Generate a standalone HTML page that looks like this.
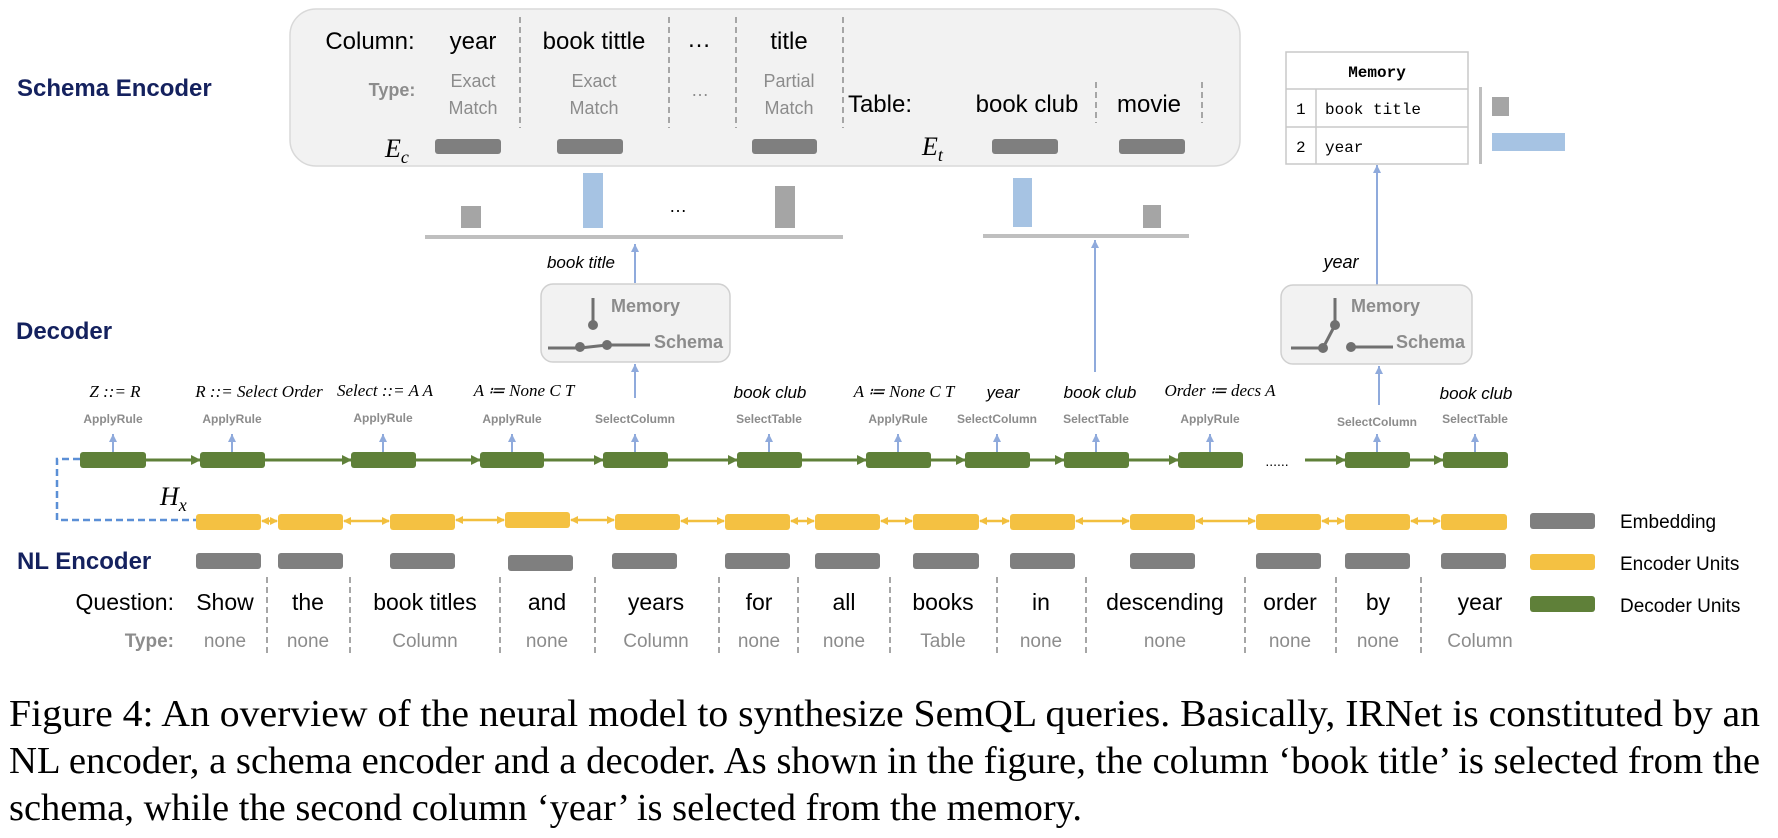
<!DOCTYPE html>
<html><head><meta charset="utf-8"><style>
html,body{margin:0;padding:0;background:#fff;width:1778px;height:838px;overflow:hidden}
svg{display:block}
.nav{font-family:"Liberation Sans",sans-serif;font-weight:bold;fill:#14215e}
.s{font-family:"Liberation Sans",sans-serif}
.g{fill:#8c8c8c}
.m{font-family:"Liberation Serif",serif;font-style:italic}
.mono{font-family:"Liberation Mono",monospace}
.cap{font-family:"Liberation Serif",serif;font-size:38px;fill:#000}
</style></head><body>
<svg width="1778" height="838" viewBox="0 0 1778 838" xmlns="http://www.w3.org/2000/svg">
<defs>
<marker id="ab" markerWidth="8" markerHeight="8" refX="8" refY="4" orient="auto" markerUnits="userSpaceOnUse"><path d="M0,0 L8,4 L0,8 Z" fill="#8faadc"/></marker>
<marker id="ag" markerWidth="10" markerHeight="10" refX="9" refY="5" orient="auto" markerUnits="userSpaceOnUse"><path d="M0,0 L10,5 L0,10 Z" fill="#5f8039"/></marker>
<marker id="ay" markerWidth="8" markerHeight="8" refX="7" refY="4" orient="auto-start-reverse" markerUnits="userSpaceOnUse"><path d="M0,0 L8,4 L0,8 Z" fill="#f2bf3e"/></marker>
</defs>

<text class="nav" x="17" y="96" font-size="24">Schema Encoder</text>
<text class="nav" x="16" y="339" font-size="24">Decoder</text>
<text class="nav" x="17" y="569" font-size="24">NL Encoder</text>

<rect x="290" y="9" width="950" height="157" rx="26" fill="#f2f2f2" stroke="#d9d9d9" stroke-width="1.5"/>
<g class="s" font-size="24" fill="#000" text-anchor="middle">
<text x="370" y="49">Column:</text>
<text x="473" y="49">year</text>
<text x="594" y="49">book tittle</text>
<text x="699" y="47">…</text>
<text x="789" y="49">title</text>
<text x="912" y="112" text-anchor="end">Table:</text>
<text x="1027" y="112">book club</text>
<text x="1149" y="112">movie</text>
</g>
<g class="s g" font-size="18" text-anchor="middle">
<text x="392" y="96" font-weight="bold">Type:</text>
<text x="473" y="87">Exact</text><text x="473" y="114">Match</text>
<text x="594" y="87">Exact</text><text x="594" y="114">Match</text>
<text x="700" y="96">…</text>
<text x="789" y="87">Partial</text><text x="789" y="114">Match</text>
</g>
<g stroke="#a6a6a6" stroke-width="2" stroke-dasharray="6,4">
<line x1="520" y1="17" x2="520" y2="128"/><line x1="669" y1="17" x2="669" y2="128"/>
<line x1="736" y1="17" x2="736" y2="128"/><line x1="843" y1="17" x2="843" y2="128"/>
<line x1="1096" y1="82" x2="1096" y2="123"/><line x1="1202" y1="82" x2="1202" y2="123"/>
</g>
<text class="m" x="385" y="157" font-size="26">E<tspan font-size="18" dy="6">c</tspan></text>
<text class="m" x="922" y="155" font-size="26">E<tspan font-size="18" dy="6">t</tspan></text>
<g fill="#7f7f7f">
<rect x="435" y="139" width="66" height="15" rx="3"/><rect x="557" y="139" width="66" height="15" rx="3"/>
<rect x="752" y="139" width="65" height="15" rx="3"/><rect x="992" y="139" width="66" height="15" rx="3"/>
<rect x="1119" y="139" width="66" height="15" rx="3"/>
</g>

<rect x="461" y="206" width="20" height="22" fill="#a5a5a5"/>
<rect x="583" y="173" width="20" height="55" fill="#a6c3e3"/>
<text class="s" x="678" y="212" font-size="18" text-anchor="middle">…</text>
<rect x="775" y="186" width="20" height="42" fill="#a5a5a5"/>
<rect x="425" y="235" width="418" height="4" fill="#bfbfbf"/>
<rect x="1013" y="178" width="19" height="49" fill="#a6c3e3"/>
<rect x="1143" y="205" width="18" height="23" fill="#a5a5a5"/>
<rect x="983" y="234" width="206" height="4" fill="#bfbfbf"/>

<rect x="1286" y="52" width="182" height="112" fill="#fff" stroke="#c8c8c8" stroke-width="1.5"/>
<line x1="1286" y1="89" x2="1468" y2="89" stroke="#c8c8c8" stroke-width="1.5"/>
<line x1="1286" y1="127" x2="1468" y2="127" stroke="#c8c8c8" stroke-width="1.5"/>
<line x1="1316" y1="89" x2="1316" y2="164" stroke="#c8c8c8" stroke-width="1.5"/>
<g class="mono" font-size="16" fill="#000">
<text x="1377" y="77" text-anchor="middle" font-weight="bold">Memory</text>
<text x="1296" y="114">1</text><text x="1325" y="114">book title</text>
<text x="1296" y="152">2</text><text x="1325" y="152">year</text>
</g>
<rect x="1479" y="87" width="3" height="77" fill="#bfbfbf"/>
<rect x="1492" y="97" width="17" height="19" fill="#a5a5a5"/>
<rect x="1492" y="133" width="73" height="18" fill="#a6c3e3"/>

<g stroke="#8faadc" stroke-width="2" marker-end="url(#ab)">
<line x1="635" y1="283" x2="635" y2="244"/>
<line x1="635" y1="398" x2="635" y2="364"/>
<line x1="1095" y1="372" x2="1095" y2="240"/>
<line x1="1377" y1="285" x2="1377" y2="165"/>
<line x1="1379" y1="405" x2="1379" y2="366"/>
</g>
<text class="s" x="581" y="268" font-size="17" text-anchor="middle" font-style="italic">book title</text>
<text class="s" x="1341" y="268" font-size="18" text-anchor="middle" font-style="italic">year</text>

<rect x="541" y="284" width="189" height="78" rx="12" fill="#f2f2f2" stroke="#d0d0d0" stroke-width="1.5"/>
<text class="s g" x="611" y="312" font-size="18" font-weight="bold">Memory</text>
<text class="s g" x="654" y="348" font-size="18" font-weight="bold">Schema</text>
<g stroke="#707070" stroke-width="3" fill="#707070">
<line x1="593" y1="298" x2="593" y2="324"/><circle cx="593" cy="325" r="3.5"/>
<polyline points="548,348 580,348 607,345 650,345" fill="none"/>
<circle cx="580" cy="347" r="3.5"/><circle cx="607" cy="345" r="3.5"/>
</g>
<rect x="1281" y="285" width="191" height="79" rx="12" fill="#f2f2f2" stroke="#d0d0d0" stroke-width="1.5"/>
<text class="s g" x="1351" y="312" font-size="18" font-weight="bold">Memory</text>
<text class="s g" x="1396" y="348" font-size="18" font-weight="bold">Schema</text>
<g stroke="#707070" stroke-width="3" fill="#707070">
<line x1="1335" y1="298" x2="1335" y2="325"/><circle cx="1335" cy="325" r="3.5"/>
<line x1="1335" y1="325" x2="1323" y2="348"/>
<line x1="1291" y1="348" x2="1323" y2="348"/><circle cx="1323" cy="348" r="3.5"/>
<line x1="1351" y1="347" x2="1393" y2="347"/><circle cx="1351" cy="347" r="3.5"/>
</g>

<g class="m" font-size="17" text-anchor="middle" fill="#000">
<text x="115" y="397">Z ::= R</text>
<text x="259" y="397">R ::= Select Order</text>
<text x="385" y="396">Select ::= A A</text>
<text x="524" y="396">A ≔ None C T</text>
<text x="904" y="397">A ≔ None C T</text>
<text x="1220" y="396">Order ≔ decs A</text>
</g>
<g class="s" font-size="17" text-anchor="middle" font-style="italic" fill="#000">
<text x="770" y="398">book club</text>
<text x="1003" y="398">year</text>
<text x="1100" y="398">book club</text>
<text x="1476" y="399">book club</text>
</g>
<g class="s g" font-size="12" font-weight="bold" text-anchor="middle">
<text x="113" y="423">ApplyRule</text><text x="232" y="423">ApplyRule</text>
<text x="383" y="422">ApplyRule</text><text x="512" y="423">ApplyRule</text>
<text x="635" y="423">SelectColumn</text><text x="769" y="423">SelectTable</text>
<text x="898" y="423">ApplyRule</text><text x="997" y="423">SelectColumn</text>
<text x="1096" y="423">SelectTable</text><text x="1210" y="423">ApplyRule</text>
<text x="1377" y="426">SelectColumn</text><text x="1475" y="423">SelectTable</text>
</g>
<g stroke="#8faadc" stroke-width="2" marker-end="url(#ab)">
<line x1="113" y1="452" x2="113" y2="434"/><line x1="232" y1="452" x2="232" y2="434"/>
<line x1="383" y1="452" x2="383" y2="434"/><line x1="512" y1="452" x2="512" y2="434"/>
<line x1="635" y1="452" x2="635" y2="434"/><line x1="769" y1="452" x2="769" y2="434"/>
<line x1="898" y1="452" x2="898" y2="434"/><line x1="997" y1="452" x2="997" y2="434"/>
<line x1="1096" y1="452" x2="1096" y2="434"/><line x1="1210" y1="452" x2="1210" y2="434"/>
<line x1="1377" y1="452" x2="1377" y2="434"/><line x1="1475" y1="452" x2="1475" y2="434"/>
</g>

<g stroke="#5f8039" stroke-width="3" marker-end="url(#ag)">
<line x1="146" y1="460" x2="200" y2="460"/><line x1="265" y1="460" x2="351" y2="460"/>
<line x1="416" y1="460" x2="480" y2="460"/><line x1="544" y1="460" x2="603" y2="460"/>
<line x1="668" y1="460" x2="737" y2="460"/><line x1="802" y1="460" x2="866" y2="460"/>
<line x1="931" y1="460" x2="965" y2="460"/><line x1="1030" y1="460" x2="1064" y2="460"/>
<line x1="1129" y1="460" x2="1178" y2="460"/><line x1="1305" y1="460" x2="1345" y2="460"/>
<line x1="1410" y1="460" x2="1443" y2="460"/>
</g>
<g fill="#5f8039">
<rect x="80" y="452" width="66" height="16" rx="3"/><rect x="200" y="452" width="65" height="16" rx="3"/>
<rect x="351" y="452" width="65" height="16" rx="3"/><rect x="480" y="452" width="64" height="16" rx="3"/>
<rect x="603" y="452" width="65" height="16" rx="3"/><rect x="737" y="452" width="65" height="16" rx="3"/>
<rect x="866" y="452" width="65" height="16" rx="3"/><rect x="965" y="452" width="65" height="16" rx="3"/>
<rect x="1064" y="452" width="65" height="16" rx="3"/><rect x="1178" y="452" width="65" height="16" rx="3"/>
<rect x="1345" y="452" width="65" height="16" rx="3"/><rect x="1443" y="452" width="65" height="16" rx="3"/>
</g>
<text class="s" x="1277" y="466" font-size="14" text-anchor="middle">......</text>

<polyline points="80,459 57,459 57,520 196,520" fill="none" stroke="#5b8fd6" stroke-width="2.5" stroke-dasharray="7,4"/>
<text class="m" x="160" y="505" font-size="26">H<tspan font-size="18" dy="6">x</tspan></text>

<g stroke="#f2bf3e" stroke-width="2.5" marker-start="url(#ay)" marker-end="url(#ay)">
<line x1="262" y1="521" x2="277" y2="521"/><line x1="344" y1="521" x2="389" y2="521"/>
<line x1="456" y1="520" x2="504" y2="520"/><line x1="571" y1="520" x2="614" y2="520"/>
<line x1="681" y1="521" x2="724" y2="521"/><line x1="791" y1="521" x2="814" y2="521"/>
<line x1="881" y1="521" x2="912" y2="521"/><line x1="980" y1="521" x2="1009" y2="521"/>
<line x1="1076" y1="521" x2="1129" y2="521"/><line x1="1196" y1="521" x2="1255" y2="521"/>
<line x1="1322" y1="521" x2="1344" y2="521"/><line x1="1411" y1="521" x2="1440" y2="521"/>
</g>
<g fill="#f4c142">
<rect x="196" y="514" width="65" height="16" rx="3"/><rect x="278" y="514" width="65" height="16" rx="3"/>
<rect x="390" y="514" width="65" height="16" rx="3"/><rect x="505" y="512" width="65" height="16" rx="3"/>
<rect x="615" y="514" width="65" height="16" rx="3"/><rect x="725" y="514" width="65" height="16" rx="3"/>
<rect x="815" y="514" width="65" height="16" rx="3"/><rect x="913" y="514" width="66" height="16" rx="3"/>
<rect x="1010" y="514" width="65" height="16" rx="3"/><rect x="1130" y="514" width="65" height="16" rx="3"/>
<rect x="1256" y="514" width="65" height="16" rx="3"/><rect x="1345" y="514" width="65" height="16" rx="3"/>
<rect x="1441" y="514" width="66" height="16" rx="3"/>
</g>
<g fill="#7f7f7f">
<rect x="196" y="553" width="65" height="16" rx="3"/><rect x="278" y="553" width="65" height="16" rx="3"/>
<rect x="390" y="553" width="65" height="16" rx="3"/><rect x="508" y="555" width="65" height="16" rx="3"/>
<rect x="612" y="553" width="65" height="16" rx="3"/><rect x="725" y="553" width="65" height="16" rx="3"/>
<rect x="815" y="553" width="65" height="16" rx="3"/><rect x="913" y="553" width="66" height="16" rx="3"/>
<rect x="1010" y="553" width="65" height="16" rx="3"/><rect x="1130" y="553" width="65" height="16" rx="3"/>
<rect x="1256" y="553" width="65" height="16" rx="3"/><rect x="1345" y="553" width="65" height="16" rx="3"/>
<rect x="1441" y="553" width="65" height="16" rx="3"/>
</g>

<g stroke="#a6a6a6" stroke-width="2" stroke-dasharray="6,4">
<line x1="267" y1="577" x2="267" y2="654"/><line x1="350" y1="577" x2="350" y2="654"/>
<line x1="500" y1="577" x2="500" y2="654"/><line x1="595" y1="577" x2="595" y2="654"/>
<line x1="719" y1="577" x2="719" y2="654"/><line x1="798" y1="577" x2="798" y2="654"/>
<line x1="890" y1="577" x2="890" y2="654"/><line x1="997" y1="577" x2="997" y2="654"/>
<line x1="1086" y1="577" x2="1086" y2="654"/><line x1="1245" y1="577" x2="1245" y2="654"/>
<line x1="1336" y1="577" x2="1336" y2="654"/><line x1="1421" y1="577" x2="1421" y2="654"/>
</g>
<g class="s" font-size="23" text-anchor="middle" fill="#000">
<text x="174" y="610" text-anchor="end">Question:</text>
<text x="225" y="610">Show</text><text x="308" y="610">the</text><text x="425" y="610">book titles</text>
<text x="547" y="610">and</text><text x="656" y="610">years</text><text x="759" y="610">for</text>
<text x="844" y="610">all</text><text x="943" y="610">books</text><text x="1041" y="610">in</text>
<text x="1165" y="610">descending</text><text x="1290" y="610">order</text><text x="1378" y="610">by</text>
<text x="1480" y="610">year</text>
</g>
<g class="s g" font-size="19" text-anchor="middle">
<text x="174" y="647" text-anchor="end" font-weight="bold">Type:</text>
<text x="225" y="647">none</text><text x="308" y="647">none</text><text x="425" y="647">Column</text>
<text x="547" y="647">none</text><text x="656" y="647">Column</text><text x="759" y="647">none</text>
<text x="844" y="647">none</text><text x="943" y="647">Table</text><text x="1041" y="647">none</text>
<text x="1165" y="647">none</text><text x="1290" y="647">none</text><text x="1378" y="647">none</text>
<text x="1480" y="647">Column</text>
</g>

<rect x="1530" y="513" width="65" height="16" rx="3" fill="#7f7f7f"/>
<rect x="1530" y="554" width="65" height="16" rx="3" fill="#f4c142"/>
<rect x="1530" y="596" width="65" height="16" rx="3" fill="#5f8039"/>
<g class="s" font-size="19" fill="#000">
<text x="1620" y="528">Embedding</text>
<text x="1620" y="570">Encoder Units</text>
<text x="1620" y="612">Decoder Units</text>
</g>

<text class="cap" x="9" y="726" textLength="1751" lengthAdjust="spacingAndGlyphs">Figure 4:   An overview of the neural model to synthesize SemQL queries.  Basically, IRNet is constituted by an</text>
<text class="cap" x="9" y="773" textLength="1751" lengthAdjust="spacingAndGlyphs">NL encoder, a schema encoder and a decoder.  As shown in the figure, the column ‘book title’ is selected from the</text>
<text class="cap" x="9" y="820" textLength="1073" lengthAdjust="spacingAndGlyphs">schema, while the second column ‘year’ is selected from the memory.</text>
</svg>
</body></html>
